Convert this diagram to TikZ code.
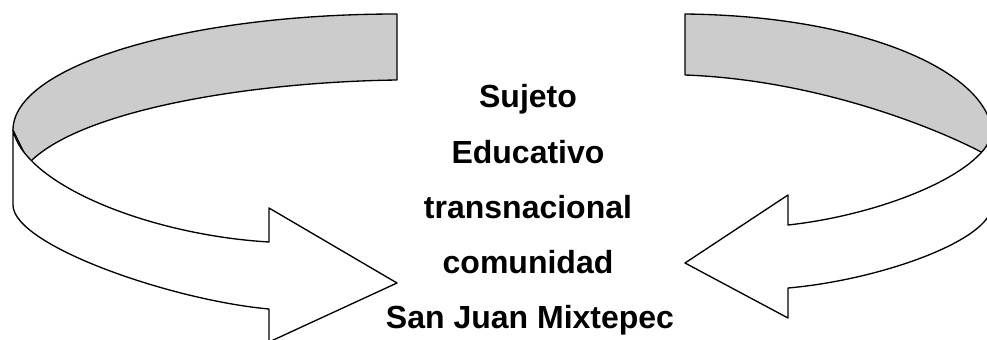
\documentclass[tikz,border=0pt]{standalone}
\usepackage{fontspec}
\setmainfont{Liberation Sans}
\usepackage{tikz}
\usepackage{xcolor}

\definecolor{bandgray}{RGB}{204,204,204}

\begin{document}
\begin{tikzpicture}[
    back/.style={fill=bandgray, draw=black, line width=1pt, line join=round},
    front/.style={fill=white, draw=black, line width=1pt, line join=round},
    label/.style={anchor=base, font=\bfseries\fontsize{24}{28}\selectfont, inner sep=0pt}]
      \begin{scope}[x=0.75pt, y=-0.75pt]
        \useasboundingbox (0, 0) rectangle (987, 339);
        \clip (0, 0) rectangle (987, 339);

        % Draw left curved arrow, back side first.
        \draw [back] (397, 14) .. controls (185, 14) and (13, 66) .. (13, 130)
              -- (29, 163) .. controls (80, 110) and (250, 82) .. (397, 80)
              -- cycle;
        \draw [front] (13, 130) .. controls (25, 185) and (150, 235) .. (269, 242)
              -- (269, 208) -- (397, 283) -- (269, 342) -- (269, 309)
              .. controls (170, 300) and (13, 245) .. (13, 205) -- cycle;

        % Draw right curved arrow.
        \draw [back] (685, 14) .. controls (870, 16) and (992, 75) .. (992, 135)
              -- (983, 153) .. controls (940, 130) and (820, 80) .. (685, 75)
              -- cycle;
        \draw [front] (992, 135) .. controls (980, 175) and (880, 215) .. (788, 225)
              -- (788, 195) -- (685, 263) -- (788, 318) -- (788, 288)
              .. controls (880, 280) and (992, 240) .. (992, 205) -- cycle;

        % Draw text in the middle.
        \node [label] (sujeto) at (528, 107) {Sujeto};
        \node [label] (educativo) at (528, 163) {Educativo};
        \node [label] (transnacional) at (528, 218) {transnacional};
        \node [label] (comunidad) at (528, 273) {comunidad};
        \node [label] (sanjuan) at (530, 328) {San Juan Mixtepec};
      \end{scope}
    \end{tikzpicture}
\end{document}
